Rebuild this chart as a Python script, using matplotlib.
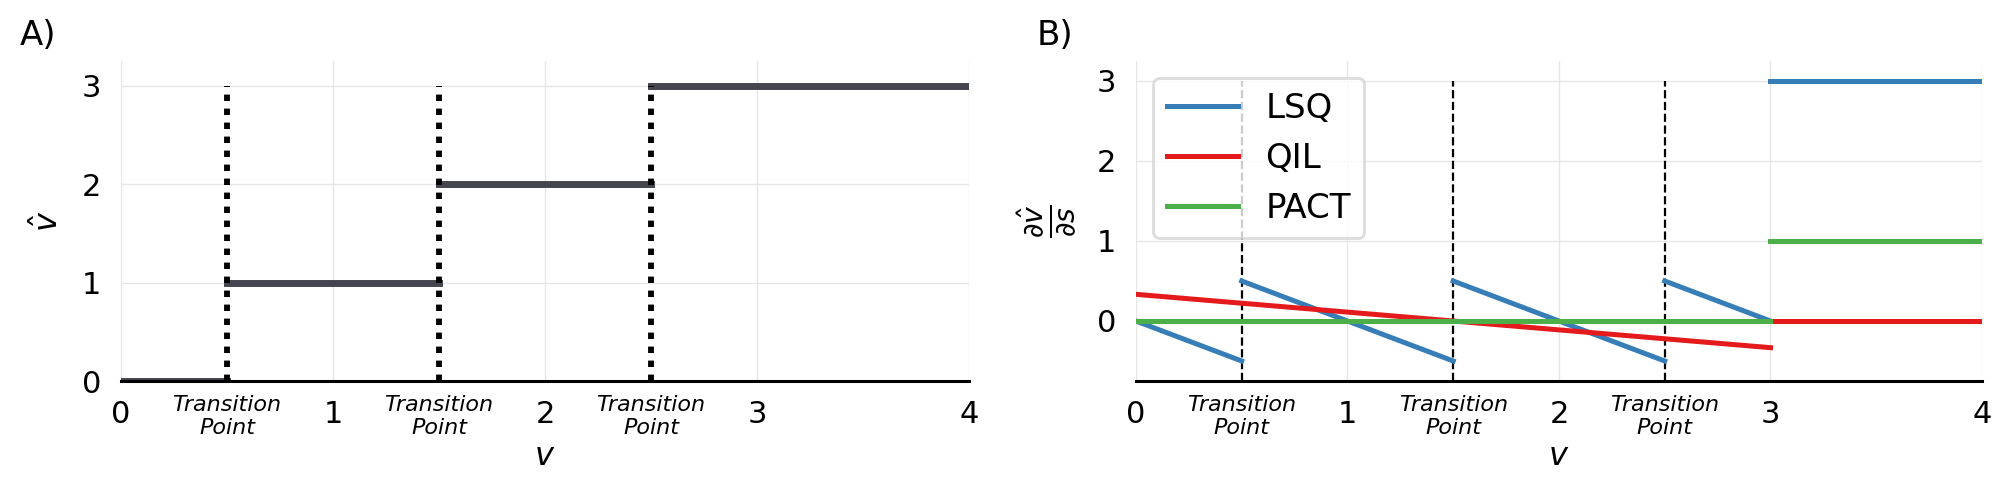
import numpy as np
import matplotlib
matplotlib.use('Agg')
import matplotlib.pyplot as plt

# panel A: quantized value per interval
step_x0 = [0.0, 0.5, 1.5, 2.5]
step_x1 = [0.5, 1.5, 2.5, 4.0]
step_y = [0, 1, 2, 3]
transition_x = [0.5, 1.5, 2.5]

# panel B: gradient estimates
lsq_segments = [([0.0, 0.5], [0.0, -0.5]),
                ([0.5, 1.5], [0.5, -0.5]),
                ([1.5, 2.5], [0.5, -0.5]),
                ([2.5, 3.0], [0.5, 0.0]),
                ([3.0, 4.0], [3.0, 3.0])]
qil_segments = [([0.0, 3.0], [1/3, -1/3]),
                ([3.0, 4.0], [0.0, 0.0])]
pact_segments = [([0.0, 3.0], [0.0, 0.0]),
                 ([3.0, 4.0], [1.0, 1.0])]

major_ticks = [0, 1, 2, 3, 4]
minor_ticks = [0.5, 1.5, 2.5]
minor_labels = ['Transition\nPoint'] * 3

plt.rcParams['font.family'] = 'DejaVu Sans'
plt.rcParams['mathtext.fontset'] = 'dejavusans'

fig = plt.figure(figsize=(20.13, 4.97), dpi=100)
axA = fig.add_axes([0.0601, 0.2334, 0.4213, 0.6439])
axB = fig.add_axes([0.5643, 0.2334, 0.4203, 0.6439])


def style_axis(ax):
    ax.set_xlim(0, 4)
    ax.set_xticks(major_ticks)
    ax.set_xticklabels([str(t) for t in major_ticks], fontsize=22)
    ax.set_xticks(minor_ticks, minor=True)
    ax.set_xticklabels(minor_labels, minor=True, fontsize=16, style='italic')
    ax.set_yticks([0, 1, 2, 3])
    ax.tick_params(axis='y', labelsize=22, length=0, pad=14)
    ax.tick_params(axis='x', which='major', length=0, pad=14)
    ax.tick_params(axis='x', which='minor', length=0, pad=10)
    ax.grid(True, which='major', color='#e6e6e6', linewidth=1.0)
    ax.set_axisbelow(True)
    for s in ['top', 'right', 'left']:
        ax.spines[s].set_visible(False)
    ax.spines['bottom'].set_color('black')
    ax.spines['bottom'].set_linewidth(2.2)
    ax.spines['bottom'].set_zorder(5)
    ax.set_xlabel('$v$', fontsize=23, labelpad=2)


# ---- A
for x0, x1, y in zip(step_x0, step_x1, step_y):
    axA.plot([x0, x1], [y, y], color='#45454f', linewidth=5)
axA.vlines(transition_x, 0, 3, colors='black', linewidth=4.2,
           linestyles=(0, (1.1, 1.3)), zorder=4)
style_axis(axA)
axA.set_ylim(0, 3.25)
axA.set_ylabel(r'$\hat{v}$', fontsize=23, labelpad=12)

# ---- B
for i, (xs, ys) in enumerate(lsq_segments):
    axB.plot(xs, ys, color='#377eb8', linewidth=3.6, label='LSQ' if i == 0 else None)
for i, (xs, ys) in enumerate(qil_segments):
    axB.plot(xs, ys, color='#e41a1c', linewidth=3.6, label='QIL' if i == 0 else None)
for i, (xs, ys) in enumerate(pact_segments):
    axB.plot(xs, ys, color='#4daf4a', linewidth=3.6, label='PACT' if i == 0 else None)
axB.vlines(transition_x, -0.75, 3, colors='black', linewidth=1.6,
           linestyles='--', zorder=1.5)
style_axis(axB)
axB.set_ylim(-0.75, 3.25)
axB.set_ylabel(r'$\frac{\partial \hat{v}}{\partial s}$', fontsize=29, labelpad=12)
leg = axB.legend(loc='upper left', fontsize=24.5, framealpha=0.8, fancybox=True,
                 edgecolor='#d4d4d4', handlelength=2.1)
leg.get_frame().set_linewidth(2)

fig.text(0.0099, 0.91, 'A)', fontsize=24.5)
fig.text(0.5148, 0.91, 'B)', fontsize=24.5)

plt.savefig('out.png', dpi=100)
plt.close('all')
